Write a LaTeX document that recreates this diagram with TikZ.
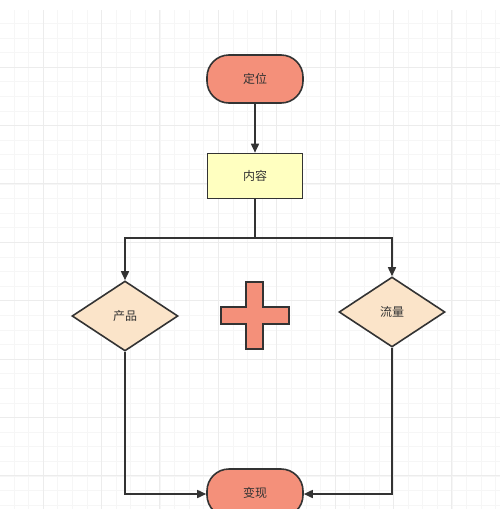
\documentclass[tikz,border=0pt]{standalone}
\usepackage{fontspec}
\setmainfont{Noto Sans CJK SC}
\usetikzlibrary{arrows.meta,shapes.geometric}
\definecolor{salmon}{HTML}{F4907A}
\definecolor{paleyellow}{HTML}{FFFFC0}
\definecolor{peach}{HTML}{FBE4C9}
\definecolor{edge}{HTML}{333333}
\definecolor{gridminor}{HTML}{F6F6F6}
\definecolor{gridmajor}{HTML}{ECECEC}
\begin{document}
\begin{tikzpicture}[x=1pt,y=-1pt,
  every node/.style={font=\fontsize{12}{14}\selectfont, text=edge},
  base/.style={draw=edge, line width=1.6pt, inner sep=0pt},
  terminal/.style={base, fill=salmon, rounded corners=22pt, minimum width=96pt, minimum height=48pt},
  process/.style={base, fill=paleyellow, minimum width=95pt, minimum height=45pt},
  decision/.style={base, fill=peach, diamond, minimum width=106pt, minimum height=70pt, aspect=1.5},
  flow/.style={draw=edge, line width=1.6pt, -{Triangle[length=9pt,width=8pt]}},
  plain/.style={draw=edge, line width=1.6pt}
]
\useasboundingbox (0,0) rectangle (500,509);
\fill[white] (0,0) rectangle (500,509);
% grid
\begin{scope}
\clip (0,10) rectangle (500,509);
\foreach \i in {-3,...,34} {
  \draw[gridminor, line width=0.6pt] ({43+\i*14.6},0) -- ({43+\i*14.6},509);
  \draw[gridminor, line width=0.6pt] (0,{67+\i*14.6}) -- (500,{67+\i*14.6});
}
\foreach \i in {-1,...,9} {
  \draw[gridmajor, line width=0.9pt] ({43+\i*58.4},0) -- ({43+\i*58.4},509);
  \draw[gridmajor, line width=0.9pt] (0,{67+\i*58.4}) -- (500,{67+\i*58.4});
}
\end{scope}

\node[terminal] (dw) at (255,79) {定位};
\node[process] (nr) at (255,176) {内容};
\node[decision] (cp) at (125,316) {产品};
\node[decision] (ll) at (392,312) {流量};
\node[terminal] (bx) at (255,493) {变现};
\coordinate (split) at (255,238);
\coordinate (sl) at (125,238);
\coordinate (sr) at (392,238);
\coordinate (bl) at (125,494);
\coordinate (br) at (392,494);

\draw[flow] (dw) -- (nr);
\draw[plain] (nr) -- (split);
\draw[flow] (split) -- (sl) -- (cp.north);
\draw[flow] (split) -- (sr) -- (ll.north);
\draw[flow] (cp.south) -- (bl) -- (bx.west |- bl);
\draw[flow] (ll.south) -- (br) -- (bx.east |- br);

% plus sign
\draw[draw=edge, line width=1.4pt, fill=salmon]
  (246,282) -- (263,282) -- (263,307) -- (289,307) -- (289,324) -- (263,324)
  -- (263,349) -- (246,349) -- (246,324) -- (221,324) -- (221,307) -- (246,307) -- cycle;
\end{tikzpicture}
\end{document}
